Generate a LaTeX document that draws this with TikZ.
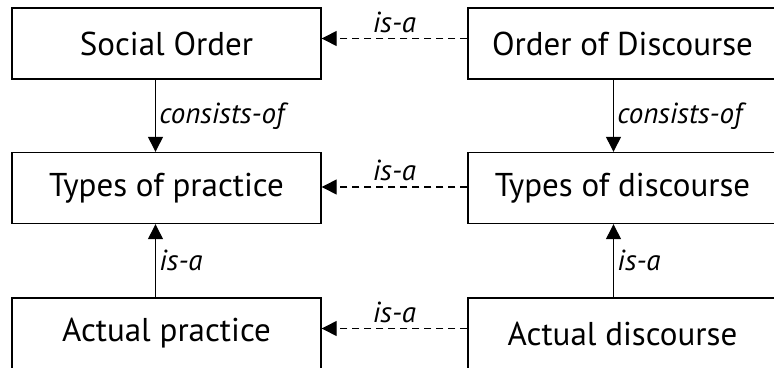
\documentclass[tikz,border=0pt]{standalone}
\usepackage{fontspec}
\setmainfont{PT Sans}
\usetikzlibrary{arrows.meta,positioning}

\begin{document}
\begin{tikzpicture}[x=1pt, y=-1pt,
  box/.style={rectangle, draw, line width=1.4pt, minimum width=309pt, minimum height=71pt, font=\fontsize{33}{36}\selectfont},
  rel/.style={line width=1.3pt, -{Triangle[length=15pt, width=15pt]}},
  isa/.style={rel, dash pattern=on 7pt off 5pt},
  lbl/.style={font=\fontsize{29}{32}\selectfont\itshape}]
\clip (0,0) rectangle (774,367);
\useasboundingbox (0,0) rectangle (774,367);

% left column: practice
\node[box] (socord) at (166.5,43.5) {Social Order};
\node[box] (typprac) at (166.5,188) {Types of practice};
\node[box] (actprac) at (166.5,333.5) {Actual practice};

% right column: discourse
\node[box] (orddisc) at (622.5,43.5) {Order of Discourse};
\node[box] (typdisc) at (622.5,188) {Types of discourse};
\node[box] (actdisc) at (622.5,333.5) {Actual discourse};

% vertical relations
\draw[rel] ([xshift=-11pt]socord.south) -- node[lbl, right] {consists-of} ([xshift=-11pt]typprac.north);
\draw[rel] ([xshift=-9pt]orddisc.south) -- node[lbl, right] {consists-of} ([xshift=-9pt]typdisc.north);
\draw[rel] ([xshift=-11pt]actprac.north) -- node[lbl, right] {is-a} ([xshift=-11pt]typprac.south);
\draw[rel] ([xshift=-9pt]actdisc.north) -- node[lbl, right] {is-a} ([xshift=-9pt]typdisc.south);

% horizontal is-a links
\draw[isa] ([yshift=5pt]orddisc.west) -- node[lbl, above=2pt] {is-a} ([yshift=5pt]socord.east);
\draw[isa] ([yshift=1pt]typdisc.west) -- node[lbl, above=2pt] {is-a} ([yshift=1pt]typprac.east);
\draw[isa] ([yshift=5pt]actdisc.west) -- node[lbl, above=2pt] {is-a} ([yshift=5pt]actprac.east);
\end{tikzpicture}
\end{document}
